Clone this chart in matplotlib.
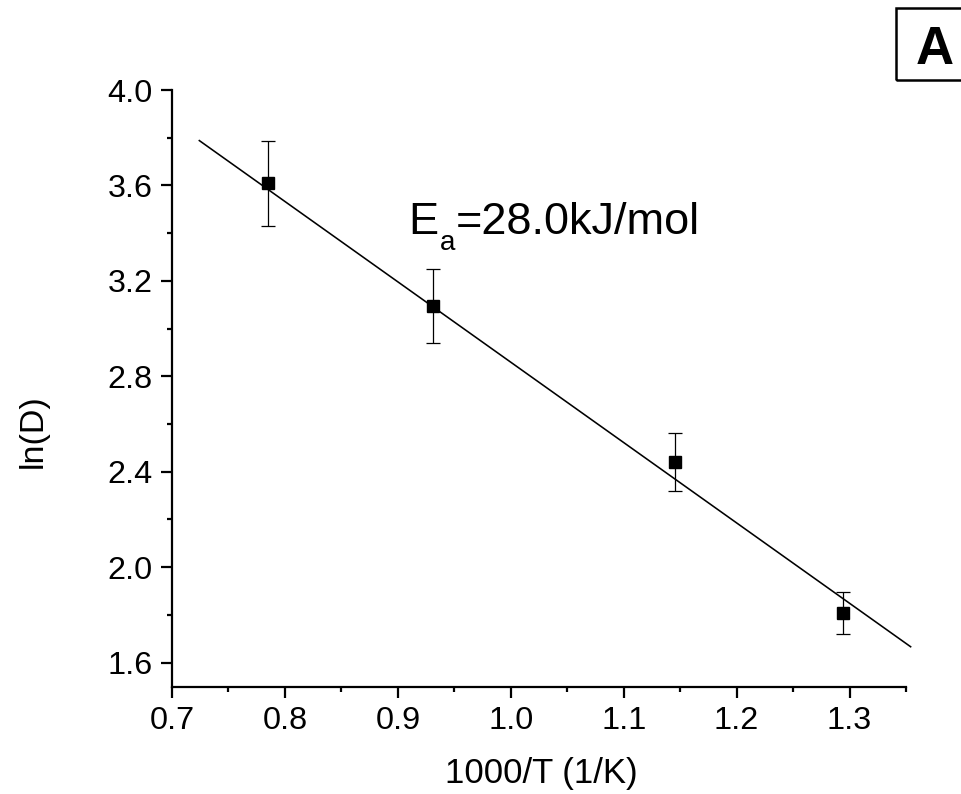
import numpy as np
import matplotlib
matplotlib.use("Agg")
import matplotlib.pyplot as plt
from matplotlib.patches import Rectangle
from matplotlib.ticker import MultipleLocator, FormatStrFormatter

plt.rcParams['font.family'] = ['Liberation Sans', 'DejaVu Sans']

# Arrhenius data: 1000/T (1/K) vs ln(D)
inv_T = [0.785, 0.9315, 1.1455, 1.294]
ln_D = [3.609, 3.095, 2.442, 1.809]
ln_D_err = [0.179, 0.155, 0.121, 0.089]

# Linear fit: ln(D) = ln(D0) - (Ea/R) * (1000/T)
Ea_kJ = 28.0
R = 8.314
ln_D0 = 6.227
fit_range = [0.7242, 1.3541]

y_ticks = [1.6, 2.0, 2.4, 2.8, 3.2, 3.6, 4.0]

fig = plt.figure(figsize=(9.62, 7.94), dpi=100)
ax = fig.add_axes([172 / 962, 1 - 686.5 / 794, (906 - 172) / 962, (686.5 - 90) / 794])

xf = np.array(fit_range)
ax.plot(xf, ln_D0 - (Ea_kJ / R) * xf, color='black', lw=1.15, zorder=2, clip_on=False)

ax.errorbar(inv_T, ln_D, yerr=ln_D_err, fmt='s', color='black', ms=8.6,
            ecolor='black', elinewidth=0.9, capsize=4.7, capthick=0.9, zorder=3)

ax.set_xlim(0.7, 1.35)
ax.set_ylim(1.5, 4.0)
ax.xaxis.set_major_locator(MultipleLocator(0.1))
ax.xaxis.set_minor_locator(MultipleLocator(0.05))
ax.set_yticks(y_ticks)
ax.yaxis.set_minor_locator(MultipleLocator(0.2))
ax.yaxis.set_major_formatter(FormatStrFormatter('%.1f'))
ax.xaxis.set_major_formatter(FormatStrFormatter('%.1f'))

for side in ('top', 'right'):
    ax.spines[side].set_visible(False)
for side in ('left', 'bottom'):
    ax.spines[side].set_linewidth(1.6)

ax.tick_params(which='major', direction='out', length=8, width=1.6, labelsize=23.3, pad=6)
ax.tick_params(which='minor', direction='out', length=3.8, width=1.6)

ax.set_xlabel('1000/T (1/K)', fontsize=25)
ax.set_ylabel('ln(D)', fontsize=24.5)
ax.xaxis.set_label_coords(0.5034, -0.118)
ax.yaxis.set_label_coords(-0.168, 0.428)

# Activation energy annotation with subscript
t1 = ax.text(0.9096, 3.395, 'E', fontsize=32.5, ha='left', va='baseline')
t2 = ax.annotate('a', xy=(1, 0), xycoords=t1, xytext=(1.0, -9),
                 textcoords='offset points', fontsize=20, ha='left', va='bottom')
t3 = ax.annotate(f'={Ea_kJ:.1f}kJ/mol', xy=(1, 0), xycoords=(t2, t1),
                 xytext=(0, 0), textcoords='offset points', fontsize=32.5,
                 ha='left', va='bottom')

# Panel label
fig.add_artist(Rectangle((896 / 962, 1 - 80 / 794), 90 / 962, 72 / 794,
                         transform=fig.transFigure, fill=False, ec='black', lw=1.8))
fig.text(935 / 962, 1 - 49.5 / 794, 'A', fontsize=38, fontweight='bold',
         ha='center', va='center')

fig.savefig('out.png', dpi=100)
